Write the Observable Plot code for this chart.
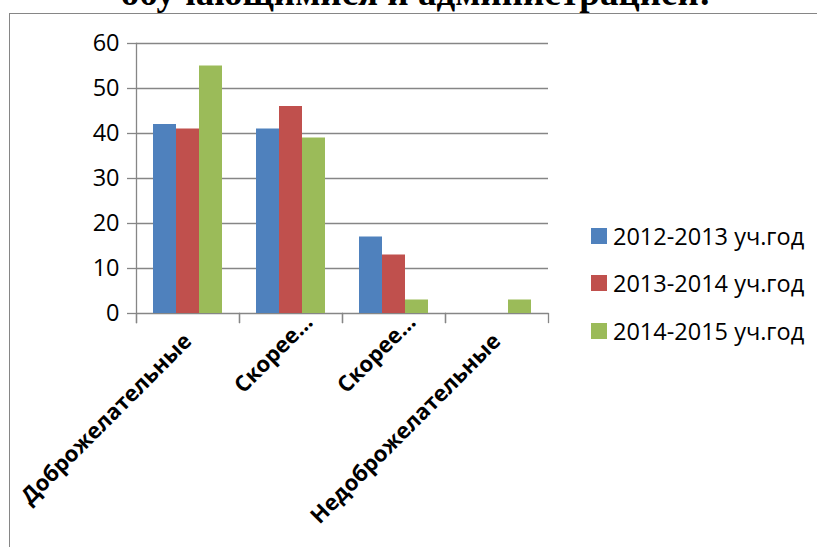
<!DOCTYPE html>
<html><head><meta charset="utf-8">
<script src="https://cdn.jsdelivr.net/npm/d3@7"></script>
<script src="https://cdn.jsdelivr.net/npm/@observablehq/plot@0.6"></script>
<style>
body{margin:0;background:#fff;}
#wrap{position:relative;width:817px;height:547px;overflow:hidden;background:#fff;}
#chart{position:absolute;left:0;top:0;}
#title{position:absolute;left:0;top:0;}
#border{position:absolute;left:9px;top:13px;width:1000px;height:1000px;border-left:1.5px solid #868686;border-top:1.5px solid #868686;}
#legend{position:absolute;left:591px;top:212px;font-family:"Open Sans";font-size:23.5px;color:#000;}
.row{display:flex;align-items:center;height:47.5px;white-space:nowrap;}
.sw{width:16px;height:16px;margin-right:6px;flex:none;}
</style></head>
<body>
<div id="wrap">
  <div id="chart"></div>
  <svg id="title" width="817" height="30"><text x="416" y="4.5" text-anchor="middle" font-family="Liberation Serif" font-weight="bold" font-size="37">обучающимися и администрацией:</text></svg>
  <div id="border"></div>
  <div id="legend"></div>
</div>
<script>
const categories = ["Доброжелательные", "Скорее доброжелательные", "Скорее недоброжелательные", "Недоброжелательные"];
const tickLabels = ["Доброжелательные", "Скорее…", "Скорее…", "Недоброжелательные"];
const series = ["2012-2013 уч.год", "2013-2014 уч.год", "2014-2015 уч.год"];
const values2012 = [42, 41, 17, 0];
const values2013 = [41, 46, 13, 0];
const values2014 = [55, 39, 3, 3];
const yTicks = [0, 10, 20, 30, 40, 50, 60];
const colors = ["#4F81BD", "#C0504D", "#9BBB59"];

const rows = [];
[values2012, values2013, values2014].forEach((vals, si) =>
  vals.forEach((v, ci) => rows.push({category: categories[ci], label: tickLabels[ci], series: series[si], value: v})));

const isShort = d => d.label.endsWith("…");
const gray = "#868686";

const chart = Plot.plot({
  width: 817, height: 547,
  marginLeft: 136, marginRight: 269, marginTop: 43, marginBottom: 234,
  style: {fontFamily: "Open Sans", fontSize: "23.5px", color: "#000", background: "transparent", overflow: "visible"},
  facet: {data: rows, x: "category"},
  fx: {domain: categories, padding: 0, axis: null, label: null},
  x: {domain: series, paddingInner: 0, paddingOuter: 0.737, axis: null, label: null},
  y: {domain: [0, 60], axis: null, label: null},
  color: {domain: series, range: colors},
  marks: [
    Plot.gridY(yTicks, {stroke: gray, strokeOpacity: 1, strokeWidth: 1.3}),
    Plot.barY(rows, {x: "series", y: "value", fill: "series"}),
    Plot.frame({anchor: "left", insetTop: 270, insetBottom: -9, stroke: gray, strokeWidth: 1.3}),
    Plot.frame({anchor: "right", insetTop: 270, insetBottom: -9, stroke: gray, strokeWidth: 1.3}),
    Plot.frame({anchor: "left", facetAnchor: "left", insetBottom: -9, stroke: gray, strokeWidth: 1.3}),
    Plot.axisY(yTicks, {tickSize: 9, tickPadding: 8, stroke: gray, strokeWidth: 1.3, fill: "#000", label: null}),
    Plot.text(rows, {filter: d => d.series === series[0] && !isShort(d), text: "label", frameAnchor: "bottom",
      rotate: -45, textAnchor: "end", lineAnchor: "bottom", dx: 5, dy: 29, fontWeight: "bold", fontSize: 22, fill: "#000"}),
    Plot.text(rows, {filter: d => d.series === series[0] && isShort(d), text: "label", frameAnchor: "bottom",
      rotate: -45, textAnchor: "end", lineAnchor: "bottom", dx: 23, dy: 10, fontWeight: "bold", fontSize: 22, fill: "#000"})
  ]
});
document.getElementById("chart").appendChild(chart);

const legend = document.getElementById("legend");
series.forEach((s, i) => {
  const row = document.createElement("div");
  row.className = "row";
  const sw = document.createElement("div");
  sw.className = "sw";
  sw.style.background = colors[i];
  const t = document.createElement("span");
  t.textContent = s;
  row.appendChild(sw); row.appendChild(t);
  legend.appendChild(row);
});
</script>
</body></html>
